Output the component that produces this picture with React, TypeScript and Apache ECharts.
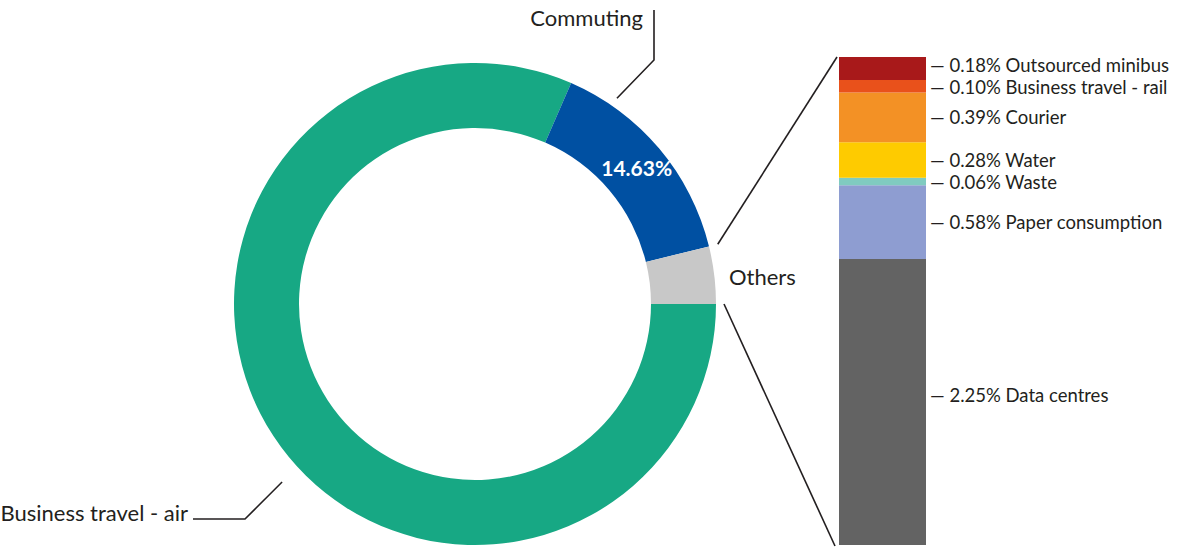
import React, { useEffect, useRef } from "react";
import * as echarts from "echarts";

// Main split of emissions
const pieNames = ["Business travel - air", "Commuting", "Others"];
const pieValues = [81.54, 14.63, 3.84];
const pieColors = ["#17a884", "#0050a2", "#c8c8c8"];

// Breakdown of "Others", bottom to top
const otherNames = [
  "Data centres",
  "Paper consumption",
  "Waste",
  "Water",
  "Courier",
  "Business travel - rail",
  "Outsourced minibus",
];
const otherValues = [2.25, 0.58, 0.06, 0.28, 0.39, 0.1, 0.18];
const otherColors = ["#636363", "#8e9dd1", "#80cbc0", "#fecb00", "#f39125", "#e9511b", "#a8191a"];

const FONT = "Lato, sans-serif";
const INK = "#231f20";

// Donut geometry
const CX = 475;
const CY = 304;
const R_IN = 176;
const R_OUT = 241;

// Stacked bar geometry
const BAR_LEFT = 839;
const BAR_WIDTH = 87;
const BAR_TOP = 57;
const BAR_BOTTOM = 545;

// vertical nudges so the breakdown labels sit where they read best
const labelNudge: Record<string, number> = {
  "Outsourced minibus": -3,
  "Business travel - rail": 1,
  "Data centres": -7,
};

const polar = (deg: number, r: number): [number, number] => {
  // deg measured counter-clockwise from 3 o'clock
  const a = (deg * Math.PI) / 180;
  return [CX + r * Math.cos(a), CY - r * Math.sin(a)];
};

export default function App() {
  const ref = useRef<HTMLDivElement>(null);

  useEffect(() => {
    if (!ref.current) return;
    const chart = echarts.init(ref.current, undefined, { renderer: "svg" });

    const total = pieValues.reduce((s, v) => s + v, 0);
    const othersTotal = otherValues.reduce((s, v) => s + v, 0);
    const othersIdx = pieNames.indexOf("Others");
    const othersDeg = (pieValues[othersIdx] / total) * 360;

    const lineStyle = { stroke: INK, lineWidth: 1.6, fill: "none" };

    const commStart = polar(55.4, 250);
    const airStart = polar(-137.3, 262.5);
    const airLabelPos = polar(-131.7, 206);

    const upperFrom = polar(othersDeg, 250);
    const lowerFrom = polar(0, 249);

    chart.setOption({
      animation: false,
      grid: {
        left: BAR_LEFT,
        width: BAR_WIDTH,
        top: BAR_TOP,
        height: BAR_BOTTOM - BAR_TOP,
      },
      xAxis: { type: "category", data: ["Others"], show: false },
      yAxis: { type: "value", min: 0, max: othersTotal, show: false },
      series: [
        {
          type: "pie",
          center: [CX, CY],
          radius: [R_IN, R_OUT],
          startAngle: 0,
          clockwise: true,
          silent: true,
          labelLine: { show: false },
          data: pieNames.map((n, i) => ({
            name: n,
            value: pieValues[i],
            itemStyle: { color: pieColors[i] },
            label: {
              show: n === "Commuting",
              position: "inside",
              formatter: "{c}%",
              color: "#fff",
              fontFamily: FONT,
              fontWeight: "bold",
              fontSize: 21,
            },
          })),
        },
        ...otherNames.map((n, i) => ({
          type: "bar",
          name: n,
          stack: "others",
          barWidth: "100%",
          silent: true,
          itemStyle: { color: otherColors[i] },
          label: {
            show: true,
            position: "right",
            distance: 4,
            formatter: `— ${otherValues[i].toFixed(2)}% ${n}`,
            color: INK,
            fontFamily: FONT,
            fontSize: 18.5,
            lineHeight: 15,
            offset: [0, labelNudge[n] ?? 0],
          },
          data: [otherValues[i]],
        })),
      ],
      graphic: [
        // Connectors from the "Others" slice to the breakdown bar
        {
          type: "line",
          shape: { x1: upperFrom[0], y1: upperFrom[1], x2: BAR_LEFT - 2, y2: BAR_TOP },
          style: lineStyle,
        },
        {
          type: "line",
          shape: { x1: lowerFrom[0], y1: lowerFrom[1], x2: BAR_LEFT - 4, y2: BAR_BOTTOM + 1 },
          style: lineStyle,
        },
        // Commuting callout
        {
          type: "polyline",
          shape: { points: [commStart, [654, 60], [654, 10]] },
          style: lineStyle,
        },
        {
          type: "text",
          x: 643,
          y: 17,
          style: {
            text: pieNames[1],
            fill: INK,
            font: `22px ${FONT}`,
            align: "right",
            verticalAlign: "middle",
          },
        },
        // Business travel - air callout
        {
          type: "polyline",
          shape: { points: [airStart, [245, 519], [193, 519]] },
          style: lineStyle,
        },
        {
          type: "text",
          x: 188,
          y: 512,
          style: {
            text: pieNames[0],
            fill: INK,
            font: `22px ${FONT}`,
            align: "right",
            verticalAlign: "middle",
          },
        },
        {
          type: "text",
          x: airLabelPos[0],
          y: airLabelPos[1],
          style: {
            text: `${pieValues[0]}%`,
            fill: "#fff",
            font: `bold 21px ${FONT}`,
            align: "center",
            verticalAlign: "middle",
          },
        },
        // Others label
        {
          type: "text",
          x: 729,
          y: 276,
          style: {
            text: pieNames[2],
            fill: INK,
            font: `22px ${FONT}`,
            align: "left",
            verticalAlign: "middle",
          },
        },
      ],
    });

    return () => chart.dispose();
  }, []);

  return (
    <div
      ref={ref}
      style={{ position: "fixed", left: 0, top: 0, width: 1180, height: 547, background: "#fff" }}
    />
  );
}
